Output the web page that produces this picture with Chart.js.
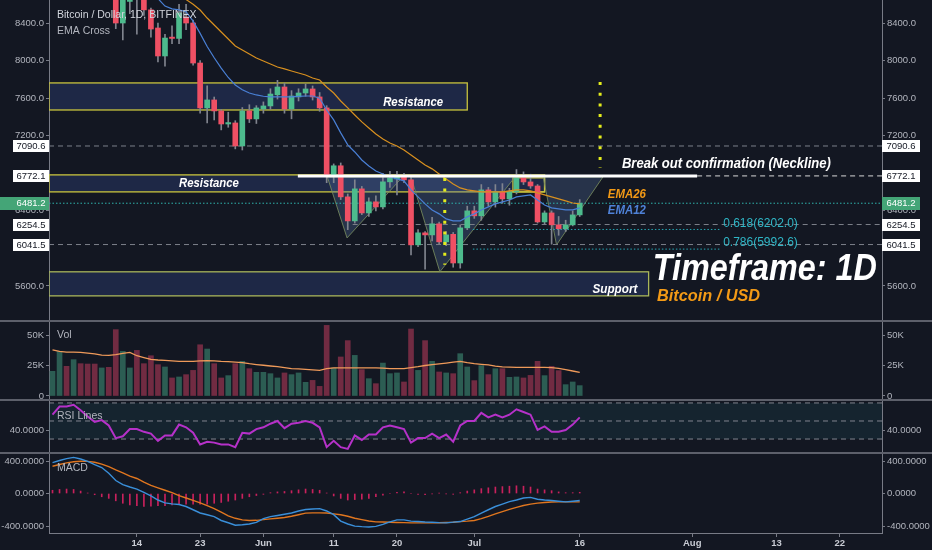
<!DOCTYPE html>
<html lang="en">
<head>
<meta charset="UTF-8">
<meta name="viewport" content="width=device-width, initial-scale=1.0">
<title>Bitcoin / Dollar, 1D, BITFINEX</title>
<script src="https://cdn.jsdelivr.net/npm/chart.js"></script>
<style>
    html, body { margin: 0; padding: 0; background: #131722; }
    body { width: 932px; height: 550px; position: relative; overflow: hidden; font-family: "Liberation Sans", Arial, sans-serif; }
    .pane { position: absolute; left: 0; width: 932px; }
    #mainPane { top: 0; height: 320px; }
    #volPane { top: 320px; height: 79px; }
    #rsiPane { top: 399px; height: 53px; }
    #macdPane { top: 452px; height: 98px; }
</style>
</head>
<body>
<div class="pane" id="mainPane"><canvas id="mainChart" width="932" height="320"></canvas></div>
<div class="pane" id="volPane"><canvas id="volChart" width="932" height="79"></canvas></div>
<div class="pane" id="rsiPane"><canvas id="rsiChart" width="932" height="53"></canvas></div>
<div class="pane" id="macdPane"><canvas id="macdChart" width="932" height="98"></canvas></div>
<script>
// day index 0 = 2 May, one candle per day up to 16 Jul (index 75)
const tickDays   = [12, 21, 30, 40, 49, 60, 75, 91, 103, 112];
const tickLabels = ['14', '23', 'Jun', '11', '20', 'Jul', '16', 'Aug', '13', '22'];

const opens  = [9080, 9220, 9740, 9700, 9860, 9650, 9370, 9230, 9320, 9040,
                8400, 8630, 8760, 8700, 8540, 8347, 8049, 8250, 8236, 8464,
                8400, 7974, 7496, 7581, 7464, 7325, 7336, 7091, 7464, 7379,
                7485, 7517, 7636, 7719, 7485, 7613, 7655, 7698, 7613, 7496,
                6783, 6880, 6549, 6293, 6634, 6378, 6496, 6442, 6709, 6740,
                6770, 6730, 6038, 6166, 6144, 6262, 6070, 6150, 5845, 6219,
                6400, 6347, 6623, 6496, 6602, 6527, 6602, 6751, 6708, 6665,
                6282, 6378, 6251, 6210, 6251, 6357];
const highs  = [9270, 9790, 9830, 9960, 9940, 9700, 9470, 9370, 9380, 9060,
                8700, 8800, 8860, 8760, 8560, 8400, 8280, 8370, 8600, 8600,
                8430, 8000, 7730, 7612, 7480, 7450, 7360, 7500, 7530, 7520,
                7560, 7700, 7790, 7760, 7680, 7700, 7750, 7730, 7660, 7520,
                6900, 6910, 6580, 6730, 6660, 6540, 6560, 6800, 6820, 6820,
                6800, 6760, 6200, 6180, 6330, 6280, 6180, 6170, 6250, 6450,
                6450, 6680, 6650, 6680, 6690, 6640, 6840, 6815, 6790, 6680,
                6400, 6400, 6340, 6300, 6400, 6520];
const lows   = [8950, 9200, 9550, 9650, 9580, 9200, 9040, 9080, 8980, 8340,
                8220, 8500, 8280, 8480, 8250, 7985, 7940, 8180, 8180, 8330,
                7950, 7440, 7335, 7368, 7262, 7290, 7060, 7048, 7340, 7330,
                7440, 7480, 7590, 7440, 7380, 7570, 7620, 7580, 7460, 6700,
                6700, 6520, 6200, 6270, 6360, 6340, 6400, 6420, 6650, 6570,
                6700, 5930, 6020, 5780, 6080, 6050, 6030, 5800, 5790, 6200,
                6320, 6300, 6450, 6440, 6480, 6460, 6580, 6680, 6640, 6270,
                6260, 6045, 6140, 6180, 6240, 6340];
const closes = [9220, 9740, 9700, 9860, 9650, 9370, 9230, 9320, 9040, 8400,
                8660, 8760, 8700, 8540, 8336, 8049, 8240, 8236, 8506, 8400,
                7974, 7496, 7581, 7464, 7325, 7340, 7091, 7464, 7379, 7496,
                7517, 7644, 7719, 7485, 7623, 7655, 7698, 7613, 7496, 6783,
                6880, 6549, 6293, 6634, 6378, 6496, 6442, 6709, 6751, 6770,
                6730, 6038, 6166, 6144, 6262, 6070, 6144, 5845, 6219, 6400,
                6347, 6623, 6496, 6602, 6527, 6602, 6751, 6708, 6665, 6282,
                6378, 6251, 6210, 6251, 6357, 6481.2];

const ema12 = [9200, 9260, 9310, 9380, 9420, 9400, 9370, 9350, 9300, 9170,
               9060, 8920, 8820, 8740, 8690, 8660, 8580, 8550, 8540, 8520,
               8420, 8290, 8150, 8030, 7920, 7820, 7740, 7690, 7655, 7634,
               7620, 7613, 7613, 7613, 7613, 7618, 7623, 7623, 7600, 7474,
               7368, 7230, 7102, 7027, 6942, 6878, 6825, 6793, 6761, 6740,
               6719, 6623, 6549, 6474, 6410, 6368, 6314, 6293, 6293, 6336,
               6368, 6410, 6442, 6474, 6495, 6516, 6549, 6559, 6570, 6516,
               6463, 6432, 6421, 6410, 6410, 6432];
const ema26 = [8980, 9030, 9080, 9130, 9170, 9190, 9200, 9200, 9180, 9120,
               9070, 9030, 8990, 8940, 8890, 8840, 8790, 8740, 8695, 8650,
               8600, 8538, 8453, 8379, 8304, 8230, 8155, 8113, 8070, 8028,
               7996, 7964, 7932, 7911, 7889, 7868, 7847, 7815, 7793, 7719,
               7655, 7570, 7496, 7421, 7347, 7283, 7219, 7166, 7123, 7091,
               7049, 6995, 6942, 6889, 6847, 6793, 6740, 6687, 6644, 6623,
               6612, 6602, 6602, 6602, 6602, 6612, 6623, 6623, 6612, 6591,
               6570, 6549, 6527, 6506, 6484, 6474];

const volumes = [20200, 36600, 24300, 29800, 26500, 26200, 26200, 23000, 23500, 54400,
                 36600, 23000, 37400, 26500, 33000, 25700, 23800, 14800, 15600, 17500,
                 21000, 42000, 38500, 26500, 14800, 16700, 26500, 28400, 22400, 19400,
                 19400, 18300, 14800, 18900, 17500, 18900, 11200, 12800, 7900, 57900,
                 23000, 32000, 45400, 33300, 21600, 14200, 10100, 27000, 18300, 18900,
                 11500, 54900, 21000, 45400, 28400, 19700, 18900, 18300, 34700, 23800,
                 12600, 24900, 17500, 22400, 22400, 15300, 15600, 14800, 16900, 28400,
                 16700, 24300, 20800, 9300, 11500, 8500];
const volMA = [37900, 36500, 36000, 36000, 35800, 35200, 34500, 33500, 33300, 33900,
               35000, 35800, 33000, 31500, 30000, 29500, 29200, 28800, 28400, 28400,
               28400, 28800, 29000, 28800, 28400, 28200, 27800, 27400, 26500, 25800,
               25200, 24600, 24000, 23200, 22500, 22200, 21800, 21400, 21000, 22500,
               23000, 23000, 23000, 23000, 23000, 23000, 23000, 22800, 22400, 22400,
               22400, 23300, 24000, 25000, 25700, 26300, 27000, 27700, 28400, 27300,
               26500, 26000, 25500, 24500, 23800, 23600, 23500, 23500, 23500, 23500,
               23500, 23200, 22600, 21600, 20500, 19400];

const rsi = [57, 66, 66, 68, 62, 55, 49, 51, 45, 31,
             33, 41, 41, 38, 36, 28, 34, 34, 46, 43,
             37, 24, 27, 26, 24, 24, 21, 37, 36, 41,
             43, 47, 50, 42, 47, 48, 50, 48, 43, 21,
             28, 21, 19, 34, 29, 35, 35, 43, 45, 43,
             41, 26, 31, 31, 36, 31, 35, 27, 45, 50,
             50, 59, 54, 57, 54, 57, 63, 60, 57, 40,
             44, 38, 38, 40, 46, 54];

const macd = [380, 406, 430, 445, 425, 395, 355, 320, 250, 160,
              110, 80, 55, 15, -30, -80, -115, -127, -135, -160,
              -200, -240, -262, -285, -332, -360, -390, -385, -375, -355,
              -310, -285, -270, -255, -240, -215, -197, -190, -186, -215,
              -260, -340, -375, -402, -408, -412, -405, -380, -350, -325,
              -325, -340, -345, -350, -353, -358, -361, -352, -345, -315,
              -285, -240, -200, -160, -130, -100, -80, -55, -48, -70,
              -80, -86, -95, -103, -95, -86];
const signal = [336, 357, 377, 390, 397, 396, 385, 362, 330, 290,
                255, 215, 185, 140, 100, 70, 40, 10, -25, -55,
                -85, -115, -150, -185, -230, -275, -305, -325, -332, -330,
                -322, -312, -304, -295, -280, -262, -242, -238, -238, -240,
                -250, -262, -280, -305, -322, -338, -349, -351, -353, -356,
                -358, -361, -361, -361, -361, -360, -357, -353, -346, -340,
                -332, -310, -282, -250, -222, -195, -170, -148, -130, -118,
                -110, -104, -103, -103, -103, -103];
const hist = [40, 50, 55, 50, 30, 5, -15, -40, -60, -90,
              -120, -140, -150, -160, -155, -150, -150, -140, -135, -130,
              -130, -130, -130, -120, -110, -95, -80, -60, -40, -25,
              -10, 10, 20, 25, 35, 45, 55, 50, 40, 5,
              -30, -60, -80, -75, -70, -60, -40, -20, 0, 15,
              20, 0, -10, -15, -5, 5, -5, -10, 10, 30,
              45, 60, 70, 80, 85, 90, 95, 90, 80, 55,
              45, 35, 20, 10, 10, 15];

const priceTicks = [5600, 6000, 6400, 6800, 7200, 7600, 8000, 8400];
const markPrices = [7090.6, 6772.1, 6481.2, 6254.5, 6041.5];
const lastPrice = 6481.2;
const fibLevels = [6202.0, 5992.6];
const fibNames  = ['0.618', '0.786'];

// ---- look ----
Chart.defaults.font.family = '"Liberation Sans", Arial, sans-serif';
const FONT = '"Liberation Sans", Arial, sans-serif';
const AXIS = '#787b86';
const LABEL = '#b2b5be';
const UP = '#4dbb8d', DOWN = '#ef5064';
const idx = closes.map((_, i) => i);
const isUp = i => closes[i] >= opens[i];

function xAxis(show) {
    return {
        type: 'linear', min: -0.5, max: 118, offset: false, display: show,
        grid: { drawOnChartArea: false, drawTicks: true, tickLength: 4, color: AXIS, offset: false },
        border: { display: true, color: AXIS, width: 1 },
        ticks: {
            color: '#c9ccd4', font: { size: 9.5, weight: 'bold' }, padding: 1, maxRotation: 0, autoSkip: false,
            callback: v => { const k = tickDays.indexOf(v); return k >= 0 ? tickLabels[k] : ''; }
        },
        afterBuildTicks: s => { s.ticks = tickDays.map(v => ({ value: v })); },
        afterFit: s => {
            s.height = show ? 17 : 0;
            s.paddingLeft = 0; s.paddingRight = 0;
        }
    };
}

function yAxes(min, max, ticks, fmt) {
    const side = (pos, w) => ({
        position: pos, min: min, max: max,
        grid: { drawOnChartArea: false, drawTicks: true, tickLength: 3, color: AXIS },
        border: { display: true, color: AXIS, width: 1 },
        ticks: { color: LABEL, font: { size: 9.5 }, padding: 2, autoSkip: false, callback: v => fmt(v) },
        afterBuildTicks: s => { s.ticks = ticks.map(v => ({ value: v })); },
        afterFit: s => { s.width = w; s.paddingTop = 0; s.paddingBottom = 0; }
    });
    return { yL: side('left', 49), yR: side('right', 50) };
}

function baseOptions(scales) {
    return {
        animation: false, responsive: false, layout: { padding: 0 },
        plugins: { legend: { display: false }, tooltip: { enabled: false } },
        scales: scales
    };
}

function boldItalic(ctx, text, x, y, size, color, width, align) {
    ctx.save();
    ctx.font = 'italic bold ' + size + 'px ' + FONT;
    ctx.fillStyle = color;
    ctx.textBaseline = 'middle';
    ctx.textAlign = 'left';
    const w = ctx.measureText(text).width;
    const k = width ? width / w : 1;
    const left = align === 'center' ? x - w * k / 2 : x;
    ctx.translate(left, y);
    ctx.scale(k, 1);
    ctx.fillText(text, 0, 0);
    ctx.restore();
}

function paneLabel(chart, text, yOff) {
    const ctx = chart.ctx;
    ctx.save();
    ctx.font = '10.5px ' + FONT;
    ctx.fillStyle = LABEL;
    ctx.textBaseline = 'middle';
    ctx.fillText(text, chart.chartArea.left + 8, chart.chartArea.top + yOff);
    ctx.restore();
}

function separator(chart) {
    const ctx = chart.ctx;
    ctx.save();
    ctx.strokeStyle = '#5d606b';
    ctx.lineWidth = 2;
    ctx.beginPath(); ctx.moveTo(0, 1); ctx.lineTo(chart.width, 1); ctx.stroke();
    ctx.restore();
}

// ---- drawings on the price pane (data units: day index, price) ----
const zones = [
    { from: -0.5, to: 59.0, hi: 7762, lo: 7474, line: '#c9c43e', text: 'Resistance', tx: 51.3, tp: 7549 },
    { from: -0.5, to: 70.0, hi: 6783, lo: 6602, line: '#c9c43e', text: 'Resistance', tx: 22.25, tp: 6687 },
    { from: -0.5, to: 84.8, hi: 5751, lo: 5495, line: '#a9b65a', text: 'Support', tx: 80.0, tp: 5559 }
];
const smallBox = { from: 65.5, to: 70.0, hi: 6751, lo: 6602 };
const shoulders = [
    [[39.1, 6761], [41.9, 6112], [49.8, 6761]],
    [[51.0, 6761], [55.1, 5751], [65.8, 6761]],
    [[69.8, 6761], [71.7, 6038], [78.3, 6761]]
];
const neckline = { from: 34.9, to: 91.7, p: 6772.1 };
const greyLines = [{ p: 7090.6, from: -0.5 }, { p: 6254.5, from: 42.7 }, { p: 6041.5, from: -0.5 }];
const fibSpan = { from: 59.8, to: 94.9, textX: 95.4, textP: [6261, 6059] };
const yellowDots = [{ x: 77.9, p0: 7772, p1: 6857 }, { x: 55.8, p0: 6751, p1: 5825 }];

const mainDecor = {
    id: 'mainDecor',
    beforeDatasetsDraw(chart) {
        const { ctx, chartArea: a } = chart;
        const X = v => chart.scales.x.getPixelForValue(v);
        const Y = v => chart.scales.yL.getPixelForValue(v);
        ctx.save();
        ctx.beginPath(); ctx.rect(a.left, a.top, a.right - a.left, a.bottom - a.top); ctx.clip();

        zones.forEach(z => {
            const x0 = X(z.from), x1 = X(z.to), y0 = Y(z.hi), y1 = Y(z.lo);
            ctx.fillStyle = 'rgba(50,72,135,0.36)';
            ctx.fillRect(x0, y0, x1 - x0, y1 - y0);
            ctx.strokeStyle = z.line; ctx.lineWidth = 1.3;
            ctx.strokeRect(x0, y0, x1 - x0, y1 - y0);
        });
        ctx.strokeStyle = '#c9c43e'; ctx.lineWidth = 1.3;
        ctx.strokeRect(X(smallBox.from), Y(smallBox.hi), X(smallBox.to) - X(smallBox.from), Y(smallBox.lo) - Y(smallBox.hi));

        shoulders.forEach(t => {
            ctx.beginPath();
            t.forEach((pt, k) => k ? ctx.lineTo(X(pt[0]), Y(pt[1])) : ctx.moveTo(X(pt[0]), Y(pt[1])));
            ctx.closePath();
            ctx.fillStyle = 'rgba(95,125,180,0.28)'; ctx.fill();
            ctx.strokeStyle = 'rgba(120,140,95,0.85)'; ctx.lineWidth = 1; ctx.stroke();
        });

        ctx.setLineDash([5, 4]); ctx.lineWidth = 1; ctx.strokeStyle = '#7c808a';
        greyLines.forEach(g => {
            ctx.beginPath(); ctx.moveTo(X(g.from), Y(g.p)); ctx.lineTo(a.right, Y(g.p)); ctx.stroke();
        });

        ctx.setLineDash([1.5, 2]); ctx.strokeStyle = '#2fb3ad';
        ctx.beginPath(); ctx.moveTo(a.left, Y(lastPrice)); ctx.lineTo(a.right, Y(lastPrice)); ctx.stroke();
        ctx.strokeStyle = '#26a8b4';
        fibLevels.forEach(p => {
            ctx.beginPath(); ctx.moveTo(X(fibSpan.from), Y(p)); ctx.lineTo(X(fibSpan.to), Y(p)); ctx.stroke();
        });
        ctx.restore();
    },
    afterDatasetsDraw(chart) {
        const { ctx, chartArea: a } = chart;
        const X = v => chart.scales.x.getPixelForValue(v);
        const Y = v => chart.scales.yL.getPixelForValue(v);
        ctx.save();
        ctx.beginPath(); ctx.rect(a.left, a.top, a.right - a.left, a.bottom - a.top); ctx.clip();

        // neckline
        ctx.strokeStyle = '#ffffff'; ctx.lineWidth = 3;
        ctx.beginPath(); ctx.moveTo(X(neckline.from), Y(neckline.p)); ctx.lineTo(X(neckline.to), Y(neckline.p)); ctx.stroke();
        ctx.lineWidth = 1; ctx.setLineDash([5, 4]); ctx.strokeStyle = '#d8d8d8';
        ctx.beginPath(); ctx.moveTo(X(neckline.to), Y(neckline.p)); ctx.lineTo(a.right, Y(neckline.p)); ctx.stroke();

        // yellow dotted verticals
        ctx.strokeStyle = '#e3ec1c'; ctx.lineWidth = 3; ctx.setLineDash([3, 7.7]);
        yellowDots.forEach(d => {
            ctx.beginPath(); ctx.moveTo(X(d.x), Y(d.p0)); ctx.lineTo(X(d.x), Y(d.p1)); ctx.stroke();
        });
        ctx.setLineDash([]);

        zones.forEach(z => boldItalic(ctx, z.text, X(z.tx), Y(z.tp), 12, '#ffffff', z.text === 'Support' ? 45 : 60, 'center'));
        boldItalic(ctx, 'Break out confirmation (Neckline)', X(81.0), Y(6900), 14, '#ffffff', 209);
        boldItalic(ctx, 'EMA26', X(79.0), Y(6570), 12, '#f39a16', 38);
        boldItalic(ctx, 'EMA12', X(79.0), Y(6400), 12, '#4f82d8', 38);
        boldItalic(ctx, 'Timeframe: 1D', X(85.4), Y(5772), 36, '#ffffff', 224);
        boldItalic(ctx, 'Bitcoin / USD', X(86.0), Y(5485), 17, '#f39a16', 103);

        ctx.font = '12px ' + FONT; ctx.fillStyle = '#2fb6c6'; ctx.textBaseline = 'middle';
        fibLevels.forEach((p, k) => ctx.fillText(fibNames[k] + '(' + p.toFixed(1) + ')', X(fibSpan.textX), Y(fibSpan.textP[k])));
        ctx.restore();
    },
    afterDraw(chart) {
        const { ctx, chartArea: a } = chart;
        const Y = v => chart.scales.yL.getPixelForValue(v);
        ctx.save();
        ctx.font = '9.5px ' + FONT; ctx.textBaseline = 'middle'; ctx.textAlign = 'center';
        markPrices.forEach(p => {
            const y = Math.round(Y(p));
            const live = p === lastPrice;
            ctx.fillStyle = live ? '#44a577' : '#ffffff';
            if (live) ctx.fillRect(0, y - 6, a.left, 13); else ctx.fillRect(a.left - 36, y - 6, 36, 12);
            ctx.fillRect(a.right, y - 6, 38, live ? 13 : 12);
            ctx.fillStyle = live ? '#ffffff' : '#131722';
            ctx.fillText(p.toFixed(1), a.left - 18, y + 0.5);
            ctx.fillText(p.toFixed(1), a.right + 19, y + 0.5);
        });
        ctx.textAlign = 'left';
        ctx.font = '10.5px ' + FONT; ctx.fillStyle = '#d1d4dc';
        ctx.fillText('Bitcoin / Dollar, 1D, BITFINEX', a.left + 8, 15);
        ctx.fillStyle = LABEL;
        ctx.fillText('EMA Cross', a.left + 8, 31);
        ctx.restore();
    }
};

new Chart(document.getElementById('mainChart'), {
    type: 'bar',
    data: {
        datasets: [
            { type: 'line', data: idx.map(i => ({ x: i, y: ema12[i] })), borderColor: '#4a80d6', borderWidth: 1.2, pointRadius: 0, order: 1, yAxisID: 'yL' },
            { type: 'line', data: idx.map(i => ({ x: i, y: ema26[i] })), borderColor: '#d8901f', borderWidth: 1.2, pointRadius: 0, order: 1, yAxisID: 'yL' },
            { data: idx.map(i => ({ x: i, y: [opens[i], closes[i]] })), backgroundColor: idx.map(i => isUp(i) ? UP : DOWN),
              barThickness: 5, grouped: false, minBarLength: 1, order: 2, yAxisID: 'yL' },
            { data: idx.map(i => ({ x: i, y: [lows[i], highs[i]] })), backgroundColor: '#80848e',
              barThickness: 1, grouped: false, order: 3, yAxisID: 'yL' }
        ]
    },
    options: baseOptions(Object.assign({ x: xAxis(false) }, yAxes(5238, 8645, priceTicks, v => v.toFixed(1)))),
    plugins: [mainDecor]
});

new Chart(document.getElementById('volChart'), {
    type: 'bar',
    data: {
        datasets: [
            { type: 'line', data: idx.map(i => ({ x: i, y: volMA[i] })), borderColor: '#ef9a5a', borderWidth: 1.3, pointRadius: 0, order: 1, yAxisID: 'yL' },
            { data: idx.map(i => ({ x: i, y: volumes[i] })), backgroundColor: idx.map(i => isUp(i) ? '#2c5d53' : '#712b42'),
              barThickness: 5, grouped: false, order: 2, yAxisID: 'yL' }
        ]
    },
    options: baseOptions(Object.assign({ x: xAxis(false) },
        yAxes(-2460, 62300, [0, 25000, 50000], v => v === 0 ? '0' : (v / 1000) + 'K'))),
    plugins: [{ id: 'volDecor', afterDraw(chart) { separator(chart); paneLabel(chart, 'Vol', 15); } }]
});

new Chart(document.getElementById('rsiChart'), {
    type: 'line',
    data: {
        datasets: [
            { data: idx.map(i => ({ x: i, y: rsi[i] })), borderColor: '#b631c9', borderWidth: 2, pointRadius: 0, yAxisID: 'yL' }
        ]
    },
    options: baseOptions(Object.assign({ x: xAxis(false) }, yAxes(15.6, 74.4, [40], v => v.toFixed(4)))),
    plugins: [{
        id: 'rsiDecor',
        beforeDatasetsDraw(chart) {
            const { ctx, chartArea: a } = chart;
            const Y = v => chart.scales.yL.getPixelForValue(v);
            ctx.save();
            ctx.fillStyle = 'rgba(40,120,140,0.13)';
            ctx.fillRect(a.left, Y(70), a.right - a.left, Y(30) - Y(70));
            ctx.strokeStyle = '#80848e'; ctx.lineWidth = 1; ctx.setLineDash([5, 4]);
            [70, 50, 30].forEach(v => { ctx.beginPath(); ctx.moveTo(a.left, Y(v)); ctx.lineTo(a.right, Y(v)); ctx.stroke(); });
            ctx.restore();
        },
        afterDraw(chart) { separator(chart); paneLabel(chart, 'RSI Lines', 17); }
    }]
});

new Chart(document.getElementById('macdChart'), {
    type: 'bar',
    data: {
        datasets: [
            { type: 'line', data: idx.map(i => ({ x: i, y: macd[i] })), borderColor: '#3a8fd9', borderWidth: 1.4, pointRadius: 0, order: 1, yAxisID: 'yL' },
            { type: 'line', data: idx.map(i => ({ x: i, y: signal[i] })), borderColor: '#e0761f', borderWidth: 1.4, pointRadius: 0, order: 1, yAxisID: 'yL' },
            { data: idx.map(i => ({ x: i, y: hist[i] })), backgroundColor: '#c8215c', barThickness: 1, grouped: false, order: 2, yAxisID: 'yL' }
        ]
    },
    options: baseOptions(Object.assign({ x: xAxis(true) },
        yAxes(-486, 510.8, [-400, 0, 400], v => v.toFixed(4)))),
    plugins: [{ id: 'macdDecor', afterDraw(chart) { separator(chart); paneLabel(chart, 'MACD', 16); } }]
});
</script>
</body>
</html>
